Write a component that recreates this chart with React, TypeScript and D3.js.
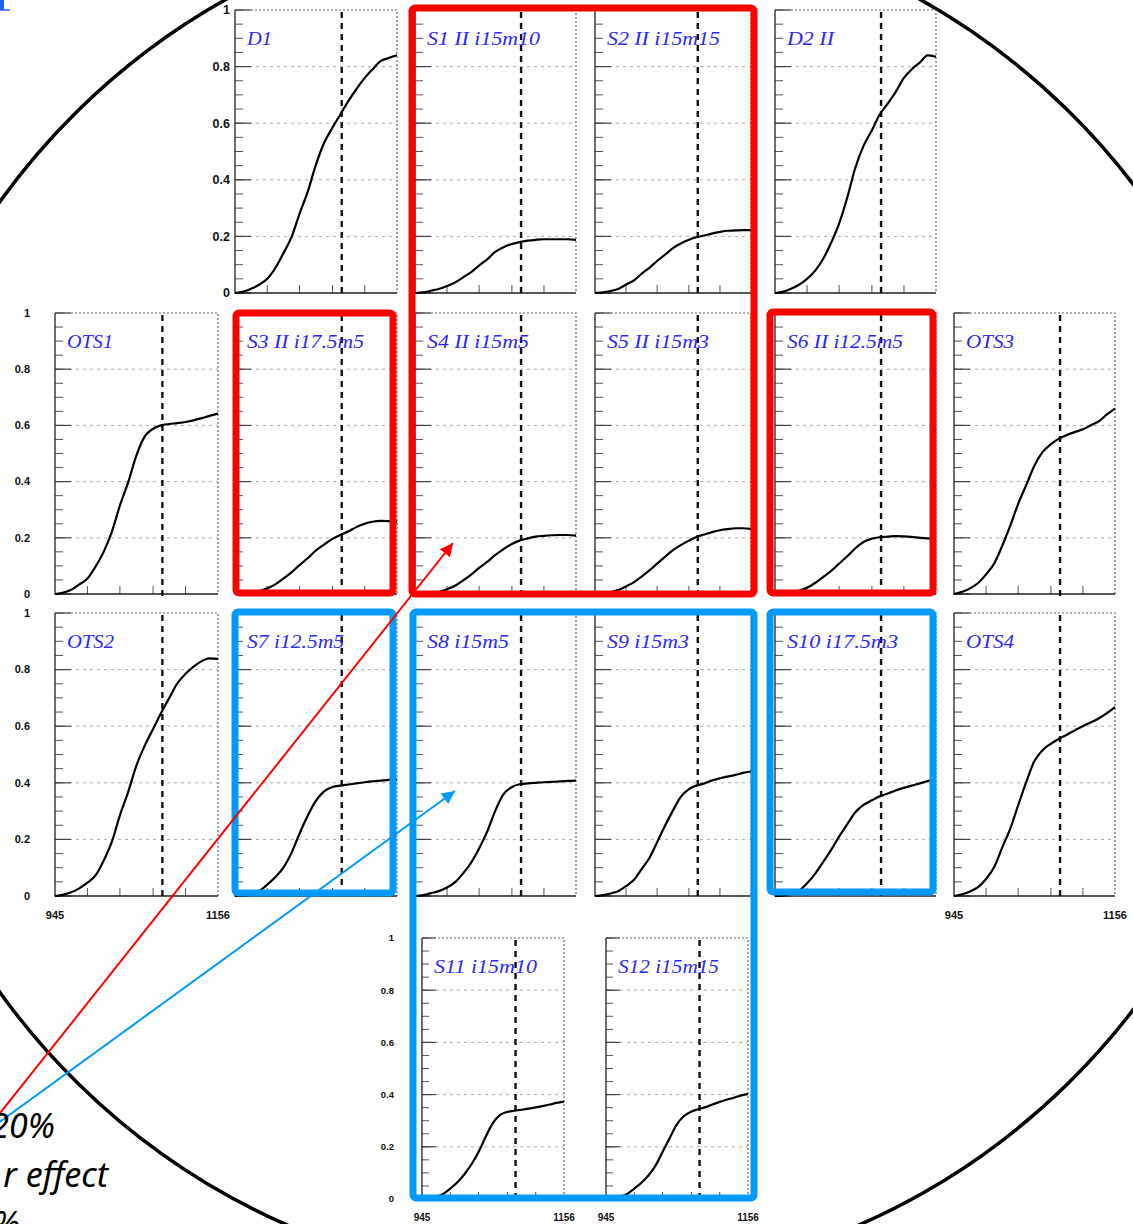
import * as d3 from 'd3';
import React from 'react';

// x samples of every efficiency curve (same binning for all panels)
const sampleX = [945, 956, 966, 977, 987, 998, 1008, 1019, 1029, 1040, 1050, 1061, 1072, 1082, 1093, 1103, 1114, 1124, 1135, 1145, 1156];
const xDomain = [945, 1156];
const xTickValues = [987, 1029, 1072, 1114];
const xTickLabels = ['945', '1156'];
const cutValue = 1084;
const yMajor = [0, 0.2, 0.4, 0.6, 0.8, 1];
const yMajorLabels = ['0', '0.2', '0.4', '0.6', '0.8', '1'];
const yMinor = d3.range(0, 1.0001, 0.05);
const yGrid = [0.2, 0.4, 0.6, 0.8];

const d1Eff = [0, 0.005, 0.015, 0.03, 0.05, 0.09, 0.14, 0.2, 0.28, 0.36, 0.45, 0.53, 0.585, 0.63, 0.68, 0.72, 0.76, 0.79, 0.82, 0.83, 0.84];
const s1Eff = [0, 0.002, 0.008, 0.015, 0.025, 0.038, 0.055, 0.075, 0.097, 0.12, 0.145, 0.162, 0.173, 0.18, 0.185, 0.188, 0.19, 0.19, 0.19, 0.19, 0.188];
const s2Eff = [0, 0.002, 0.007, 0.015, 0.03, 0.045, 0.068, 0.09, 0.113, 0.136, 0.158, 0.175, 0.188, 0.197, 0.203, 0.21, 0.216, 0.22, 0.221, 0.222, 0.222];
const d2Eff = [0, 0.005, 0.015, 0.03, 0.05, 0.08, 0.12, 0.18, 0.245, 0.34, 0.44, 0.52, 0.575, 0.63, 0.67, 0.71, 0.76, 0.79, 0.815, 0.84, 0.835];
const ots1Eff = [0, 0.005, 0.015, 0.035, 0.055, 0.1, 0.15, 0.225, 0.315, 0.4, 0.49, 0.56, 0.588, 0.6, 0.605, 0.608, 0.612, 0.618, 0.626, 0.634, 0.642];
const s3Eff = [0, 0.001, 0.004, 0.01, 0.02, 0.035, 0.055, 0.078, 0.103, 0.128, 0.154, 0.176, 0.196, 0.21, 0.223, 0.238, 0.25, 0.257, 0.26, 0.259, 0.257];
const s4Eff = [0, 0.001, 0.004, 0.008, 0.017, 0.03, 0.048, 0.07, 0.093, 0.115, 0.138, 0.16, 0.178, 0.19, 0.198, 0.204, 0.207, 0.209, 0.21, 0.21, 0.208];
const s5Eff = [0, 0.002, 0.007, 0.015, 0.027, 0.042, 0.062, 0.085, 0.108, 0.133, 0.155, 0.174, 0.19, 0.203, 0.212, 0.22, 0.227, 0.231, 0.234, 0.234, 0.232];
const s6Eff = [0, 0.001, 0.005, 0.012, 0.022, 0.04, 0.06, 0.083, 0.108, 0.135, 0.162, 0.185, 0.197, 0.202, 0.204, 0.206, 0.205, 0.203, 0.2, 0.198, 0.197];
const ots3Eff = [0, 0.008, 0.02, 0.04, 0.07, 0.11, 0.17, 0.245, 0.32, 0.39, 0.455, 0.505, 0.533, 0.552, 0.566, 0.576, 0.586, 0.6, 0.615, 0.638, 0.66];
const ots2Eff = [0, 0.005, 0.013, 0.028, 0.047, 0.075, 0.125, 0.195, 0.285, 0.37, 0.458, 0.53, 0.59, 0.645, 0.7, 0.75, 0.785, 0.81, 0.83, 0.84, 0.838];
const s7Eff = [0, 0.001, 0.006, 0.018, 0.04, 0.068, 0.1, 0.155, 0.22, 0.285, 0.335, 0.37, 0.385, 0.39, 0.394, 0.398, 0.402, 0.405, 0.408, 0.41, 0.412];
const s8Eff = [0, 0.003, 0.01, 0.018, 0.03, 0.05, 0.08, 0.12, 0.168, 0.23, 0.3, 0.36, 0.385, 0.395, 0.398, 0.4, 0.402, 0.403, 0.405, 0.407, 0.408];
const s9Eff = [0, 0.003, 0.009, 0.018, 0.035, 0.058, 0.095, 0.136, 0.19, 0.25, 0.3, 0.35, 0.378, 0.39, 0.398, 0.408, 0.416, 0.422, 0.428, 0.435, 0.44];
const s10Eff = [0, 0.002, 0.008, 0.02, 0.045, 0.08, 0.12, 0.165, 0.21, 0.255, 0.295, 0.322, 0.338, 0.352, 0.362, 0.373, 0.382, 0.39, 0.398, 0.406, 0.413];
const ots4Eff = [0, 0.006, 0.016, 0.032, 0.06, 0.104, 0.17, 0.24, 0.32, 0.405, 0.475, 0.515, 0.538, 0.555, 0.57, 0.585, 0.6, 0.613, 0.628, 0.645, 0.667];
const s11Eff = [0, 0.002, 0.008, 0.02, 0.04, 0.065, 0.095, 0.135, 0.18, 0.24, 0.29, 0.322, 0.334, 0.338, 0.342, 0.346, 0.351, 0.356, 0.362, 0.368, 0.373];
const s12Eff = [0, 0.002, 0.008, 0.02, 0.04, 0.063, 0.09, 0.13, 0.18, 0.235, 0.285, 0.318, 0.335, 0.344, 0.352, 0.362, 0.372, 0.38, 0.388, 0.396, 0.403];

const noteLines = ['20%', 'r effect', '%'];

// layout of the collage
const cols = [[55, 163], [235, 162], [415, 161], [595, 156], [775, 161], [954, 161]];
const rows = [[10, 283], [313, 281], [613, 283]];

const panels = [
  { name: 'D1', values: d1Eff, box: [cols[1], rows[0]], lw: 25, yAxis: { right: 230, size: 12.5 } },
  { name: 'S1 II i15m10', values: s1Eff, box: [cols[2], rows[0]], lw: 113 },
  { name: 'S2 II i15m15', values: s2Eff, box: [cols[3], rows[0]], lw: 113 },
  { name: 'D2 II', values: d2Eff, box: [cols[4], rows[0]], lw: 47 },
  { name: 'OTS1', values: ots1Eff, box: [cols[0], rows[1]], lw: 46, yAxis: { right: 30, size: 11 } },
  { name: 'S3 II i17.5m5', values: s3Eff, box: [cols[1], rows[1]], lw: 117 },
  { name: 'S4 II i15m5', values: s4Eff, box: [cols[2], rows[1]], lw: 102 },
  { name: 'S5 II i15m3', values: s5Eff, box: [cols[3], rows[1]], lw: 102 },
  { name: 'S6 II i12.5m5', values: s6Eff, box: [cols[4], rows[1]], lw: 116 },
  { name: 'OTS3', values: ots3Eff, box: [cols[5], rows[1]], lw: 48 },
  { name: 'OTS2', values: ots2Eff, box: [cols[0], rows[2]], lw: 47, yAxis: { right: 30, size: 11 }, xAxis: { y: 915, size: 11 } },
  { name: 'S7 i12.5m5', values: s7Eff, box: [cols[1], rows[2]], lw: 97 },
  { name: 'S8 i15m5', values: s8Eff, box: [cols[2], rows[2]], lw: 82 },
  { name: 'S9 i15m3', values: s9Eff, box: [cols[3], rows[2]], lw: 82 },
  { name: 'S10 i17.5m3', values: s10Eff, box: [cols[4], rows[2]], lw: 111 },
  { name: 'OTS4', values: ots4Eff, box: [cols[5], rows[2]], lw: 48, xAxis: { y: 915, size: 11 } },
  { name: 'S11 i15m10', values: s11Eff, box: [[422, 142], [938, 261]], lw: 103, yAxis: { right: 394, size: 9.5 }, xAxis: { y: 1217, size: 10 } },
  { name: 'S12 i15m15', values: s12Eff, box: [[606, 142], [938, 261]], lw: 101, xAxis: { y: 1217, size: 10 } },
];

const Panel = ({ p }) => {
  const [[left, w], [top, h]] = p.box;
  const x = d3.scaleLinear().domain(xDomain).range([left, left + w]);
  const y = d3.scaleLinear().domain([0, 1]).range([top + h, top]);
  const line = d3.line<number>()
    .x((_, i) => x(sampleX[i]))
    .y((d) => y(d))
    .curve(d3.curveMonotoneX);
  const majorLen = Math.round(w * 0.1);
  const minorLen = Math.round(w * 0.05);
  return (
    <g>
      <rect x={left} y={top} width={w} height={h} fill="#fff" />
      {yGrid.map((v) => (
        <line key={'g' + v} x1={left} x2={left + w} y1={y(v)} y2={y(v)} stroke="#aaa" strokeWidth={1} strokeDasharray="3 4" />
      ))}
      {yMinor.map((v) => (
        <line key={'m' + v} x1={left} x2={left + minorLen} y1={y(v)} y2={y(v)} stroke="#555" strokeWidth={1} />
      ))}
      {yMajor.map((v) => (
        <line key={'M' + v} x1={left} x2={left + majorLen} y1={y(v)} y2={y(v)} stroke="#444" strokeWidth={1.2} />
      ))}
      {xTickValues.map((v) => (
        <line key={'x' + v} x1={x(v)} x2={x(v)} y1={top + h} y2={top + h - minorLen} stroke="#555" strokeWidth={1} />
      ))}
      <path d={`M${left},${top}H${left + w}V${top + h}`} fill="none" stroke="#666" strokeWidth={1.2} strokeDasharray="2 2" />
      <path d={`M${left},${top}V${top + h}H${left + w}`} fill="none" stroke="#222" strokeWidth={1.3} />
      <line x1={x(cutValue)} x2={x(cutValue)} y1={top + 2} y2={top + h + 2} stroke="#111" strokeWidth={2.4} strokeDasharray="6 5" />
      <path d={line(p.values)} fill="none" stroke="#000" strokeWidth={2.2} strokeLinejoin="round" />
      <text x={left + 12} y={top + 35} fill="#2828ff" fontFamily="'Liberation Serif', serif" fontStyle="italic" fontSize={18}
        textLength={p.lw} lengthAdjust="spacingAndGlyphs">{p.name}</text>
      {p.yAxis && yMajor.map((v, i) => (
        <text key={'yl' + v} x={p.yAxis.right} y={y(v)} dy="0.35em" textAnchor="end" fontFamily="'Liberation Sans', Arial, sans-serif"
          fontWeight="bold" fontSize={p.yAxis.size} fill="#111">{yMajorLabels[i]}</text>
      ))}
      {p.xAxis && xDomain.map((v, i) => (
        <text key={'xl' + v} x={x(v)} y={p.xAxis.y} dy="0.35em" textAnchor="middle" fontFamily="'Liberation Sans', Arial, sans-serif"
          fontWeight="bold" fontSize={p.xAxis.size} fill="#111">{xTickLabels[i]}</text>
      ))}
    </g>
  );
};

export default function App() {
  const red = '#ff0000';
  const blue = '#0099ff';
  return (
    <svg width={1133} height={1224} style={{ position: 'absolute', left: 0, top: 0, display: 'block', background: '#fff' }}>
      <defs>
        <marker id="headRed" viewBox="0 0 10 10" refX="10" refY="5" markerWidth="16" markerHeight="13" markerUnits="userSpaceOnUse" orient="auto">
          <path d="M0,0 L10,5 L0,10 z" fill={red} />
        </marker>
        <marker id="headBlue" viewBox="0 0 10 10" refX="10" refY="5" markerWidth="16" markerHeight="13" markerUnits="userSpaceOnUse" orient="auto">
          <path d="M0,0 L10,5 L0,10 z" fill={blue} />
        </marker>
      </defs>
      <rect x={0} y={0} width={1133} height={1224} fill="#fff" />
      <ellipse cx={573} cy={597} rx={700} ry={688} fill="none" stroke="#000" strokeWidth={3.5} />
      <rect x={0} y={0} width={4} height={10} fill="#2b5cff" />
      <line x1={0} x2={10} y1={10} y2={10} stroke="#2b5cff" strokeWidth={1.5} />
      {panels.map((p) => <Panel key={p.name} p={p} />)}
      <g fill="none" strokeWidth={7} strokeLinejoin="round">
        <rect x={412} y={8} width={342} height={586} rx={3} stroke={red} />
        <rect x={236} y={313} width={157} height={280} rx={3} stroke={red} />
        <rect x={770} y={312} width={163} height={281} rx={3} stroke={red} />
        <rect x={235} y={612} width={158} height={281} rx={3} stroke={blue} />
        <rect x={770} y={612} width={163} height={280} rx={3} stroke={blue} />
        <rect x={413} y={612} width={341} height={586} rx={3} stroke={blue} />
      </g>
      <line x1={-3} y1={1117} x2={453} y2={543} stroke={red} strokeWidth={2} markerEnd="url(#headRed)" />
      <line x1={-3} y1={1124} x2={455} y2={791} stroke={blue} strokeWidth={2} markerEnd="url(#headBlue)" />
      <g fontFamily="'Noto Sans', sans-serif" fontStyle="italic" fontSize={34} fill="#000" textAnchor="end">
        <text x={55} y={1138}>{noteLines[0]}</text>
        <text x={108} y={1187}>{noteLines[1]}</text>
        <text x={20} y={1236}>{noteLines[2]}</text>
      </g>
    </svg>
  );
}
